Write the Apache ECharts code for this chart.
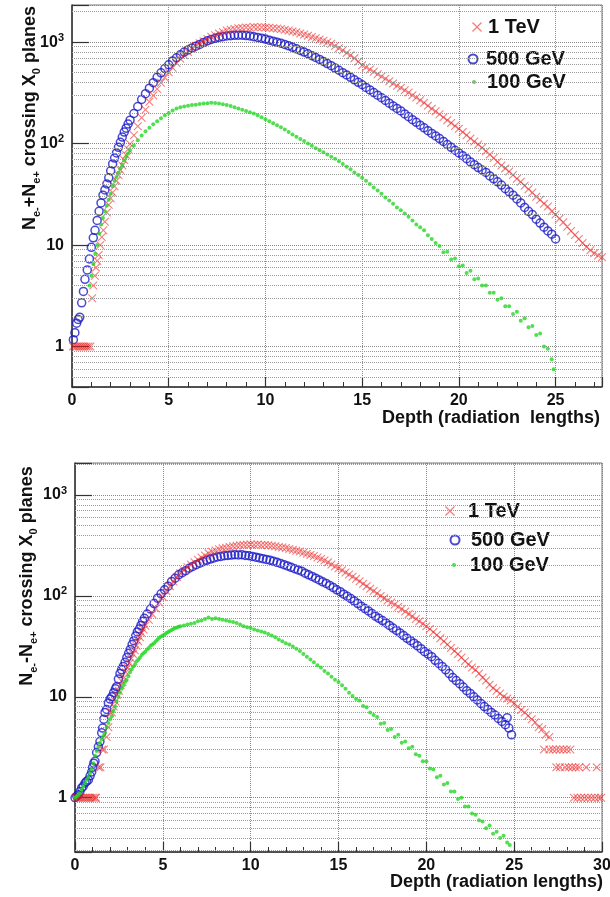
<!DOCTYPE html>
<html><head><meta charset="utf-8">
<script src="https://cdn.jsdelivr.net/npm/echarts@6/dist/echarts.min.js"></script>
<style>html,body{margin:0;padding:0;background:#fff}#c{width:610px;height:897px}</style>
</head><body><div id="c"></div>
<script>
// ---------- DATA: [depth (radiation lengths), number of particles] ----------
const seriesNames = ['1 TeV', '500 GeV', '100 GeV'];

// Top panel: N(e-) + N(e+)
const top1TeV = [
[0.05,1],[0.15,1],[0.25,1],[0.35,1],[0.45,1],[0.55,1],[0.65,1],[0.75,1],[0.85,1],[0.95,1],
[1.04,3],[1.1,4],[1.18,5],[1.24,6],[1.3,7],[1.38,8],[1.46,10],[1.54,12],[1.62,14],[1.7,17],[1.8,21],[1.9,25],[2.0,29],[2.1,33],[2.2,38],[2.3,43],[2.4,49],[2.5,55],[2.6,61],[2.7,69],[2.8,77],[2.9,88],[3.0,99],
[3.2,121],[3.4,148],[3.6,180],[3.8,215],[4.0,258],[4.2,298],[4.4,345],[4.6,398],[4.8,448],[5.0,505],[5.2,560],[5.4,622],[5.6,685],[5.8,742],[6.0,800],[6.2,868],[6.4,918],[6.6,975],[6.8,1022],[7.0,1075],[7.2,1128],[7.4,1168],[7.6,1212],[7.8,1255],[8.0,1298],[8.2,1322],[8.4,1345],[8.6,1368],[8.8,1380],[9.0,1396],[9.2,1388],[9.4,1405],[9.6,1398],[9.8,1402],[10.0,1390],[10.2,1385],[10.4,1372],[10.6,1360],[10.8,1345],[11.0,1325],[11.2,1300],[11.4,1275],[11.6,1248],[11.8,1218],[12.0,1190],[12.2,1158],[12.4,1122],[12.6,1090],[12.8,1062],[13.0,1032],[13.2,995],[13.4,962],[13.6,915],[13.8,872],[14.0,830],[14.2,782],[14.4,740],[14.6,695],[14.8,642],[15.0,592],[15.2,565],[15.4,538],[15.6,510],[15.8,482],[16.0,458],[16.2,435],[16.4,412],[16.6,392],[16.8,372],[17.0,355],[17.2,336],[17.4,318],[17.6,300],[17.8,284],[18.0,268],[18.2,252],[18.4,236],[18.6,221],[18.8,208],[19.0,195],[19.2,182],[19.4,170],[19.6,160],[19.8,149],[20.0,140],[20.2,130],[20.4,121],[20.6,112],[20.8,105],[21.0,98],[21.2,91],[21.4,84],[21.6,78],[21.8,72],[22.0,66],[22.2,61],[22.4,57],[22.6,53],[22.8,49],[23.0,45],[23.2,42],[23.4,38.5],[23.6,35.5],[23.8,33],[24.0,30],[24.2,28],[24.4,25.5],[24.6,24],[24.8,21.5],[25.0,20],[25.2,18.2],[25.4,16.8],[25.6,15.2],[25.8,13.8],[26.0,12.6],[26.2,11.5],[26.4,10.5],[26.6,9.6],[26.8,8.9],[27.0,8.3],[27.2,7.9],[27.4,7.6]
];
const top500GeV = [
[0.07,1.17],[0.15,1.37],[0.24,1.7],[0.32,1.85],[0.4,1.95],[0.5,2.7],[0.59,3.5],[0.67,4.6],[0.79,5.7],[0.9,7.3],[1.0,9.5],[1.1,11.8],[1.19,14],[1.3,17.5],[1.4,21.5],[1.5,26],[1.6,31],[1.7,35],[1.8,40],[1.9,46],[2.0,54],[2.1,63],[2.2,72],[2.3,81],[2.4,92],[2.5,103],[2.6,116],[2.7,130],[2.8,142],[2.9,156],[3.0,170],
[3.2,198],[3.4,232],[3.6,272],[3.8,310],[4.0,352],[4.2,398],[4.4,450],[4.6,498],[4.8,548],[5.0,598],[5.2,652],[5.4,700],[5.6,750],[5.8,798],[6.0,838],[6.2,875],[6.4,912],[6.6,948],[6.8,990],[7.0,1030],[7.2,1062],[7.4,1090],[7.6,1115],[7.8,1130],[8.0,1148],[8.2,1158],[8.4,1165],[8.6,1170],[8.8,1168],[9.0,1160],[9.2,1150],[9.4,1132],[9.6,1112],[9.8,1092],[10.0,1070],[10.2,1045],[10.4,1022],[10.6,998],[10.8,975],[11.0,948],[11.2,918],[11.4,888],[11.6,858],[11.8,828],[12.0,798],[12.2,768],[12.4,735],[12.6,705],[12.8,675],[13.0,645],[13.2,615],[13.4,585],[13.6,555],[13.8,528],[14.0,500],[14.2,475],[14.4,450],[14.6,425],[14.8,402],[15.0,380],[15.2,358],[15.4,338],[15.6,318],[15.8,300],[16.0,283],[16.2,266],[16.4,250],[16.6,235],[16.8,222],[17.0,210],[17.2,196],[17.4,184],[17.6,172],[17.8,162],[18.0,152],[18.2,143],[18.4,134],[18.6,126],[18.8,119],[19.0,112],[19.2,105],[19.4,98],[19.6,92],[19.8,86],[20.0,81],[20.2,76],[20.4,71],[20.6,66],[20.8,62],[21.0,58],[21.2,55],[21.4,52],[21.6,48],[21.8,45],[22.0,42],[22.2,39],[22.4,36],[22.6,33.5],[22.8,31],[23.0,28.5],[23.2,26],[23.4,23.5],[23.6,21.5],[23.8,20],[24.0,18],[24.2,16.5],[24.4,15],[24.6,13.8],[24.8,12.8],[25.0,11.5]
];
const top100GeV = [
[0.9,4],[1.0,5],[1.1,6.5],[1.2,8.2],[1.3,10],[1.4,13],[1.5,16],[1.6,18.5],[1.7,21.5],[1.8,24.5],[1.9,28],[2.0,32],[2.1,38],[2.2,43],[2.3,47],[2.4,52],[2.5,57],[2.6,62],[2.7,68],[2.8,74],[2.9,80],[3.0,86],[3.2,96],[3.4,108],[3.6,120],[3.8,132],[4.0,143],[4.2,155],[4.4,166],[4.6,178],[4.8,190],[5.0,200],[5.2,212],[5.4,222],[5.6,228],[5.8,232],[6.0,236],[6.2,240],[6.4,242],[6.6,245],[6.8,248],[7.0,250],[7.2,252],[7.4,251],[7.6,248],[7.8,244],[8.0,240],[8.2,234],[8.4,228],[8.6,222],[8.8,216],[9.0,210],[9.2,204],[9.4,198],[9.6,190],[9.8,182],[10.0,174],[10.2,166],[10.4,159],[10.6,152],[10.8,145],[11.0,138],[11.2,130],[11.4,123],[11.6,117],[11.8,111],[12.0,106],[12.2,100],[12.4,95],[12.6,90],[12.8,86],[13.0,82],[13.2,78],[13.4,74],[13.6,71],[13.8,67],[14.0,63],[14.2,59],[14.4,56],[14.6,52],[14.8,49],[15.0,46],[15.2,43],[15.4,40],[15.6,37],[15.8,34.5],[16.0,32],[16.2,29.5],[16.4,27.5],[16.6,25.5],[16.8,23.5],[17.0,22],[17.2,20.5],[17.4,19],[17.6,17.5],[17.8,16],[18.0,15],[18.2,14],[18.4,12.5],[18.6,11.5],[18.8,10.5],[19.0,9.8],[19.2,8.5],[19.4,8.6],[19.6,7.2],[19.8,7.4],[20.0,6.2],[20.2,6.3],[20.4,5.3],[20.6,5.6],[20.8,4.6],[21.0,4.7],[21.2,4.0],[21.4,4.0],[21.6,3.4],[21.8,3.4],[22.0,2.9],[22.2,3.0],[22.4,2.5],[22.6,2.5],[22.8,2.1],[23.0,2.2],[23.2,1.8],[23.4,1.9],[23.6,1.55],[23.8,1.6],[24.0,1.3],[24.2,1.35],[24.4,1.0],[24.6,0.95],[24.8,0.75],[24.9,0.6]
];

// Bottom panel: N(e-) - N(e+)
const bot1TeV = [
[0.05,1],[0.15,1],[0.25,1],[0.35,1],[0.45,1],[0.55,1],[0.65,1],[0.75,1],[0.85,1],[0.95,1],[1.05,1],[1.15,1],[1.2,1],
[1.35,2],[1.45,2],[1.55,3],[1.65,3],[1.8,4],[1.9,5],[2.0,7],[2.1,7],[2.2,8],[2.3,9],[2.4,10.5],[2.5,11.5],[2.6,13],[2.7,14],[2.8,15.5],[2.9,17.5],[3.0,19.5],[3.1,21.5],[3.2,24],[3.3,26.5],[3.4,29],[3.5,32],[3.6,35.5],[3.7,39],[3.8,43],[3.9,46.5],[4.0,50.5],[4.2,58],[4.4,66],[4.6,75],[4.8,86],[5.0,98],[5.2,112],[5.4,125],[5.6,139],[5.8,154],[6.0,168],[6.2,180],[6.4,192],[6.6,205],[6.8,216],[7.0,228],[7.2,240],[7.4,252],[7.6,264],[7.8,274],[8.0,282],[8.2,290],[8.4,296],[8.6,300],[8.8,306],[9.0,310],[9.2,314],[9.4,317],[9.6,320],[9.8,322],[10.0,324],[10.2,322],[10.4,323],[10.6,320],[10.8,320],[11.0,318],[11.2,314],[11.4,310],[11.6,306],[11.8,302],[12.0,298],[12.2,292],[12.4,286],[12.6,280],[12.8,275],[13.0,268],[13.2,262],[13.4,255],[13.6,248],[13.8,240],[14.0,232],[14.2,224],[14.4,215],[14.6,205],[14.8,196],[15.0,188],[15.2,180],[15.4,171],[15.6,163],[15.8,155],[16.0,148],[16.2,140],[16.4,132],[16.6,125],[16.8,118],[17.0,112],[17.2,106],[17.4,100],[17.6,95],[17.8,90],[18.0,86],[18.2,82],[18.4,78],[18.6,74],[18.8,70],[19.0,66],[19.2,63],[19.4,59],[19.6,56],[19.8,53],[20.0,50],[20.2,47],[20.4,44],[20.6,41],[20.8,38],[21.0,35.5],[21.2,33],[21.4,30.5],[21.6,28.5],[21.8,26.5],[22.0,24.5],[22.2,22.5],[22.4,21],[22.6,19.5],[22.8,18.5],[23.0,17],[23.2,15.5],[23.4,14.5],[23.6,13.2],[23.8,12.2],[24.0,11.5],[24.2,10.8],[24.4,10],[24.6,9.6],[24.8,9.2],[25.0,8.6],[25.2,8],[25.4,7.4],[25.6,7],[25.8,6.5],[26.0,6],[26.2,5.6],[26.4,5],[26.6,4.8],[26.8,4.2],[27.0,4],
[26.7,3],[27.0,3],[27.2,3],[27.4,3],[27.6,3],[27.8,3],[28.0,3],[28.2,3],
[27.4,2],[27.6,2],[27.9,2],[28.1,2],[28.3,2],[28.5,2],[28.7,2],[29.1,2],[29.7,2],
[28.4,1],[28.6,1],[28.8,1],[29.0,1],[29.2,1],[29.4,1],[29.6,1],[29.8,1],[29.95,1]
];
const bot500GeV = [
[0.0,1],[0.1,1.04],[0.19,1.07],[0.28,1.15],[0.38,1.25],[0.47,1.3],[0.57,1.4],[0.66,1.45],[0.76,1.5],[0.86,1.65],[0.95,1.8],[1.0,2.0],[1.07,2.2],[1.14,2.3],[1.23,2.8],[1.33,3.2],[1.42,3.6],[1.52,4.4],[1.57,4.9],[1.64,6],[1.71,7],[1.8,7.5],[1.9,8.7],[2.0,9.5],[2.09,10],[2.2,11],[2.3,12],[2.37,12.6],[2.47,15],[2.56,17],[2.65,18.5],[2.75,20],[2.85,22],[2.95,24.5],[3.05,27],[3.15,29.5],[3.25,33],[3.35,36],[3.45,40],[3.55,44],[3.65,47],[3.75,51],[3.85,56],[3.95,60],[4.1,66],[4.3,74],[4.5,84],[4.7,95],[4.9,105],[5.1,115],[5.3,125],[5.5,139],[5.7,150],[5.9,162],[6.1,170],[6.3,178],[6.5,188],[6.7,196],[6.9,204],[7.1,211],[7.3,218],[7.5,225],[7.7,232],[7.9,238],[8.1,243],[8.3,246],[8.5,250],[8.7,252],[8.9,254],[9.1,256],[9.3,255],[9.5,256],[9.7,252],[9.9,250],[10.1,246],[10.3,242],[10.5,238],[10.7,234],[10.9,230],[11.1,226],[11.3,220],[11.5,215],[11.7,210],[11.9,204],[12.1,198],[12.3,192],[12.5,186],[12.7,181],[12.9,176],[13.1,168],[13.3,162],[13.5,156],[13.7,150],[13.9,144],[14.1,138],[14.3,133],[14.5,127],[14.7,121],[14.9,115],[15.1,110],[15.3,104],[15.5,99],[15.7,94],[15.9,89],[16.1,84],[16.3,79],[16.5,75],[16.7,71],[16.9,67],[17.1,63],[17.3,60],[17.5,57],[17.7,54],[17.9,51],[18.1,48],[18.3,45.5],[18.5,43],[18.7,40.5],[18.9,38],[19.1,36],[19.3,34],[19.5,32],[19.7,30],[19.9,28],[20.1,26.5],[20.3,25],[20.5,23],[20.7,21.5],[20.9,20],[21.1,18.5],[21.3,17],[21.5,15.5],[21.7,14.5],[21.9,13.5],[22.1,12.5],[22.3,11.5],[22.5,10.8],[22.7,10],[22.9,9.3],[23.1,8.6],[23.3,8],[23.5,7.5],[23.7,7],[23.9,6.6],[24.1,6.1],[24.3,5.7],[24.5,5.3],[24.6,6.2],[24.7,4.9],[24.85,4.2]
];
const bot100GeV = [
[0.0,1],[0.1,1.03],[0.19,1.07],[0.28,1.1],[0.38,1.2],[0.47,1.3],[0.57,1.4],[0.66,1.5],[0.76,1.6],[0.86,1.75],[0.95,1.9],[1.04,2.2],[1.14,2.6],[1.23,2.9],[1.33,3.2],[1.42,3.5],[1.52,3.8],[1.61,4.1],[1.71,4.4],[1.8,5],[1.9,5.5],[2.0,6],[2.09,6.4],[2.18,7.2],[2.28,8],[2.37,9],[2.47,10],[2.56,11],[2.66,12],[2.75,13],[2.85,14],[2.94,14.7],[3.04,16],[3.13,17.5],[3.23,18.8],[3.32,20],[3.42,21],[3.51,22.5],[3.61,23.5],[3.7,24.5],[3.8,26],[3.89,27],[4.0,28],[4.1,29.5],[4.2,30.5],[4.3,32],[4.4,33],[4.5,34],[4.6,35.5],[4.7,37],[4.8,38.5],[4.9,39.5],[5.0,40.5],[5.1,41.5],[5.2,43],[5.3,44],[5.4,45],[5.5,46],[5.6,47],[5.7,48],[5.8,48.5],[5.9,49.5],[6.0,50],[6.2,51],[6.4,52],[6.6,53],[6.8,54],[7.0,56],[7.2,57],[7.4,59],[7.6,61],[7.8,59],[8.0,60],[8.2,59],[8.4,58],[8.6,57],[8.8,56],[9.0,55],[9.2,54],[9.4,52],[9.6,50],[9.8,49],[10.0,48],[10.2,46.5],[10.4,45.5],[10.6,44.5],[10.8,43.5],[11.0,42],[11.2,40.5],[11.4,39],[11.6,37],[11.8,35.5],[12.0,34],[12.2,33],[12.4,31.5],[12.6,30],[12.8,28.5],[13.0,26.5],[13.2,25],[13.4,23.5],[13.6,22],[13.8,20.5],[14.0,19.5],[14.2,18],[14.4,17],[14.6,15.8],[14.8,14.8],[15.0,14],[15.2,13],[15.4,12],[15.6,11],[15.8,10.2],[16.0,9.5],[16.2,9.2],[16.4,8.1],[16.6,7.9],[16.8,7.0],[17.0,6.6],[17.2,6.3],[17.4,5.4],[17.6,5.5],[17.8,4.7],[18.0,4.8],[18.2,4.0],[18.4,4.2],[18.6,3.5],[18.8,3.6],[19.0,3.1],[19.2,3.2],[19.4,2.7],[19.6,2.6],[19.8,2.3],[20.0,2.3],[20.2,1.95],[20.4,1.9],[20.6,1.6],[20.8,1.65],[21.0,1.35],[21.2,1.4],[21.4,1.15],[21.6,1.15],[21.8,0.97],[22.0,1.0],[22.2,0.82],[22.4,0.82],[22.6,0.7],[22.8,0.68],[23.0,0.6],[23.2,0.58],[23.4,0.5],[23.6,0.53],[23.8,0.44],[24.0,0.46],[24.2,0.4],[24.4,0.42],[24.6,0.36],[24.75,0.34]
];

// Axis ranges, tick labels, titles
const xTickLabelsTop = ['0','5','10','15','20','25'];
const xTickLabelsBottom = ['0','5','10','15','20','25','30'];
const minorGridTop = [0.5,0.6,0.7,0.8,0.9,2,3,4,5,6,7,8,9,20,30,40,50,60,70,80,90,200,300,400,500,600,700,800,900,2000];
const minorGridBottom = [0.3,0.4,0.5,0.6,0.7,0.8,0.9,2,3,4,5,6,7,8,9,20,30,40,50,60,70,80,90,200,300,400,500,600,700,800,900,2000];
const xTitleTop = 'Depth (radiation  lengths)';
const xTitleBottom = 'Depth (radiation lengths)';

// ---------- CHART ----------
const FONT = '"Liberation Sans", Arial, Helvetica, sans-serif';
const RED = 'rgba(236,30,30,0.72)';
const BLUE = '#1c1cc8';
const GREEN = '#26d626';
const XPATH = 'path://M0,0.9L0.9,0L5,4.1L9.1,0L10,0.9L5.9,5L10,9.1L9.1,10L5,5.9L0.9,10L0,9.1L4.1,5Z';

function isDecade(v){ const l = Math.log10(v); return Math.abs(l - Math.round(l)) < 1e-6; }
function yLabel(v){
  if (!isDecade(v)) return '';
  const e = Math.round(Math.log10(v));
  if (e <= 1) return '{b|' + Math.round(v) + '}';
  return '{b|10}{sup|' + e + '}';
}
function xLabelFn(labels){
  return function(v){ const s = String(Math.round(v)); return (Math.abs(v - Math.round(v)) < 1e-6 && labels.indexOf(s) >= 0) ? s : ''; };
}

function xAxis(gi, max, labels){
  return {
    type:'value', gridIndex: gi, min: 0, max: max, interval: 5,
    axisLine:{ show:true, onZero:false, lineStyle:{ color:'#333', width:1.5 } },
    axisTick:{ show:true, inside:true, length:10, lineStyle:{ color:'#333', width:1.2 } },
    minorTick:{ show:true, splitNumber:5, length:5, lineStyle:{ color:'#333', width:1 } },
    axisLabel:{ show:true, formatter: xLabelFn(labels), fontFamily: FONT, fontWeight:'bold', fontSize:16, color:'#111', margin:6, showMaxLabel:true },
    splitLine:{ show:true, lineStyle:{ type:'dotted', color:'#8a8a8a', width:1 } },
    minorSplitLine:{ show:false }
  };
}
function yAxis(gi, min, max){
  return {
    type:'log', logBase:10, gridIndex: gi, min: min, max: max,
    axisLine:{ show:true, onZero:false, lineStyle:{ color:'#333', width:1.5 } },
    axisTick:{ show:true, inside:true, length:17, lineStyle:{ color:'#333', width:1.2 } },
    minorTick:{ show:false },
    axisLabel:{ show:true, formatter: yLabel, margin:8, color:'#111',
      rich:{ b:{ fontFamily: FONT, fontWeight:'bold', fontSize:16, lineHeight:20, color:'#111' },
             sup:{ fontFamily: FONT, fontWeight:'bold', fontSize:11, lineHeight:12, verticalAlign:'top', color:'#111' } } },
    splitLine:{ show:true, lineStyle:{ type:'dotted', color:'#8a8a8a', width:1 } }
  };
}
function gridLines(values){
  return { silent:true, symbol:['none','none'], animation:false, label:{show:false},
    lineStyle:{ type:'dotted', color:'#9a9a9a', width:1 }, emphasis:{ disabled:true },
    data: values.map(v => ({ yAxis: v })) };
}
function seriesFor(gi, d1, d5, d100, minor){
  return [
    { name: seriesNames[1], type:'scatter', xAxisIndex:gi, yAxisIndex:gi, data:d5, symbol:'circle', symbolSize:8,
      itemStyle:{ color:'rgba(0,0,0,0)', borderColor:BLUE, borderWidth:1.5 }, markLine: gridLines(minor), z:3 },
    { name: seriesNames[0], type:'scatter', xAxisIndex:gi, yAxisIndex:gi, data:d1, symbol:XPATH, symbolSize:8.5,
      itemStyle:{ color:RED }, z:4 },
    { name: seriesNames[2], type:'scatter', xAxisIndex:gi, yAxisIndex:gi, data:d100, symbol:'circle', symbolSize:4,
      itemStyle:{ color:GREEN }, z:5 }
  ];
}
function legendItem(name, left, cy, size, pad){
  return { show:true, orient:'vertical', left:left, top: cy - 11, padding:0, itemWidth:size, itemHeight:size,
    selectedMode:false, data:[name], symbolKeepAspect:true,
    textStyle:{ fontFamily: FONT, fontWeight:'bold', fontSize:20, color:'#111', lineHeight:22, padding:[0,0,0,pad] } };
}
function yTitle(x, y, sign){
  return { type:'text', x:x, y:y, rotation: Math.PI/2, silent:true,
    style:{ text:'{n|N}{s|e-}{n|' + sign + 'N}{s|e+}{n| crossing X}{s|0}{n| planes}', align:'center', verticalAlign:'middle',
      rich:{ n:{ fontFamily: FONT, fontWeight:'bold', fontSize:18, lineHeight:24, fill:'#111' },
             s:{ fontFamily: FONT, fontWeight:'bold', fontSize:11, lineHeight:13, verticalAlign:'bottom', fill:'#111' } } } };
}
function xTitle(text, xRight, yMid){
  return { type:'text', x:xRight, y:yMid, silent:true,
    style:{ text:text, align:'right', verticalAlign:'middle', fontFamily: FONT, fontWeight:'bold', fontSize:18, fill:'#111' } };
}

const chart = echarts.init(document.getElementById('c'), null, { renderer:'canvas' });
chart.setOption({
  animation:false,
  backgroundColor:'#fff',
  grid:[
    { left:72, top:5, right:8, bottom:510, show:true, borderColor:'#777', borderWidth:1, backgroundColor:'transparent', containLabel:false, outerBoundsMode:'none' },
    { left:75, top:463, right:8, bottom:45, show:true, borderColor:'#777', borderWidth:1, backgroundColor:'transparent', containLabel:false, outerBoundsMode:'none' }
  ],
  xAxis:[ xAxis(0, 27.4, xTickLabelsTop), xAxis(1, 30, xTickLabelsBottom) ],
  yAxis:[ yAxis(0, 0.4, 2320), yAxis(1, 0.29, 2075) ],
  legend:[
    legendItem(seriesNames[0], 472, 27, 10, 1),
    legendItem(seriesNames[1], 467.5, 59, 9, 3.5),
    legendItem(seriesNames[2], 472, 82, 4, 6),
    legendItem(seriesNames[0], 445, 511, 10, 8),
    legendItem(seriesNames[1], 449.5, 540, 9, 6.5),
    legendItem(seriesNames[2], 452, 565, 4, 9)
  ],
  tooltip:{ show:false },
  graphic:[ yTitle(30, 118, '+'), yTitle(27, 576, '-'), xTitle(xTitleTop, 600, 418), xTitle(xTitleBottom, 603, 882) ],
  series:[].concat(seriesFor(0, top1TeV, top500GeV, top100GeV, minorGridTop), seriesFor(1, bot1TeV, bot500GeV, bot100GeV, minorGridBottom))
});
</script>
</body></html>
